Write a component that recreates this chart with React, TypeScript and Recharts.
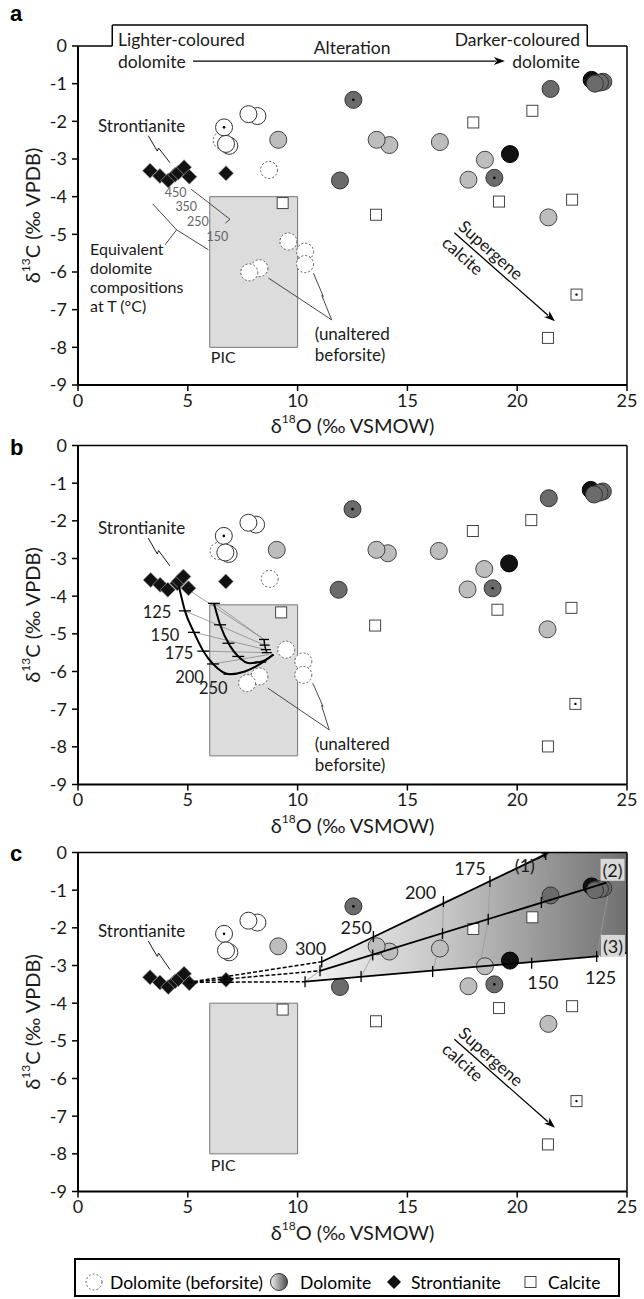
import React from "react";
import {
  ComposedChart,
  Scatter,
  Area,
  XAxis,
  YAxis,
  ReferenceArea,
  ReferenceLine,
  ReferenceDot,
  Label,
} from "recharts";

const FONT = "Lato, 'Open Sans', sans-serif";

type Pt = { x: number; y: number; dot?: boolean };

// ---- panel a measurements (panel c reuses them, without beforsite) ----
const strontianiteA: Pt[] = [
  { x: 3.28, y: -3.31 }, { x: 3.73, y: -3.45 }, { x: 4.11, y: -3.57 }, { x: 4.42, y: -3.42 },
  { x: 4.57, y: -3.36 }, { x: 4.83, y: -3.22 }, { x: 5.07, y: -3.47 }, { x: 6.74, y: -3.38 },
];
const beforsiteA: Pt[] = [
  { x: 6.54, y: -2.51 }, { x: 8.7, y: -3.29 }, { x: 9.58, y: -5.19 }, { x: 10.34, y: -5.46 },
  { x: 10.34, y: -5.79 }, { x: 8.26, y: -5.9 }, { x: 7.8, y: -6.01 },
];
const whiteDolA: Pt[] = [
  { x: 6.65, y: -2.16, dot: true }, { x: 6.89, y: -2.65 }, { x: 6.74, y: -2.6 },
  { x: 8.17, y: -1.86 }, { x: 7.76, y: -1.81 },
];
const lightDolA: Pt[] = [
  { x: 9.12, y: -2.49 }, { x: 14.18, y: -2.63 }, { x: 13.6, y: -2.49 }, { x: 16.48, y: -2.55 },
  { x: 18.53, y: -3.02 }, { x: 17.78, y: -3.55 }, { x: 21.42, y: -4.55 },
];
const blackDolA: Pt[] = [{ x: 19.67, y: -2.87 }, { x: 23.39, y: -0.9 }];
const darkDolA: Pt[] = [
  { x: 12.54, y: -1.43, dot: true }, { x: 11.93, y: -3.57 }, { x: 18.96, y: -3.5, dot: true },
  { x: 21.52, y: -1.14 }, { x: 23.92, y: -0.95 }, { x: 23.77, y: -0.97 }, { x: 23.54, y: -1.0 },
];
const calciteA: Pt[] = [
  { x: 9.32, y: -4.17 }, { x: 13.57, y: -4.48 }, { x: 18.0, y: -2.03 }, { x: 20.69, y: -1.72 },
  { x: 19.17, y: -4.13 }, { x: 22.5, y: -4.08 }, { x: 22.7, y: -6.6, dot: true }, { x: 21.4, y: -7.75 },
];

// ---- panel b measurements ----
const strontianiteB: Pt[] = [
  { x: 3.31, y: -3.57 }, { x: 3.74, y: -3.7 }, { x: 4.09, y: -3.83 }, { x: 4.52, y: -3.66 },
  { x: 4.6, y: -3.6 }, { x: 4.8, y: -3.48 }, { x: 5.03, y: -3.79 }, { x: 6.73, y: -3.61 },
];
const beforsiteB: Pt[] = [
  { x: 6.4, y: -2.8 }, { x: 8.73, y: -3.54 }, { x: 9.48, y: -5.42 }, { x: 10.26, y: -5.73 },
  { x: 10.26, y: -6.09 }, { x: 8.26, y: -6.13 }, { x: 7.7, y: -6.31 },
];
const whiteDolB: Pt[] = [
  { x: 6.64, y: -2.4, dot: true }, { x: 6.86, y: -2.88 }, { x: 6.71, y: -2.84 },
  { x: 8.11, y: -2.1 }, { x: 7.76, y: -2.05 },
];
const lightDolB: Pt[] = [
  { x: 9.05, y: -2.77 }, { x: 14.11, y: -2.86 }, { x: 13.59, y: -2.77 }, { x: 16.43, y: -2.8 },
  { x: 18.5, y: -3.28 }, { x: 17.74, y: -3.82 }, { x: 21.38, y: -4.88 },
];
const blackDolB: Pt[] = [{ x: 19.63, y: -3.13 }, { x: 23.35, y: -1.18 }];
const darkDolB: Pt[] = [
  { x: 12.5, y: -1.69, dot: true }, { x: 11.87, y: -3.83 }, { x: 18.88, y: -3.79, dot: true },
  { x: 21.44, y: -1.4 }, { x: 23.9, y: -1.22 }, { x: 23.75, y: -1.25 }, { x: 23.5, y: -1.3 },
];
const calciteB: Pt[] = [
  { x: 9.25, y: -4.43 }, { x: 13.53, y: -4.78 }, { x: 17.98, y: -2.27 }, { x: 20.64, y: -1.98 },
  { x: 19.1, y: -4.36 }, { x: 22.47, y: -4.31 }, { x: 22.65, y: -6.86, dot: true }, { x: 21.4, y: -7.99 },
];
// mixing curves (panel b)
const outerCurveB: Pt[] = [
  { x: 4.6, y: -3.75 }, { x: 4.87, y: -4.39 }, { x: 5.28, y: -4.96 }, { x: 5.71, y: -5.46 },
  { x: 6.15, y: -5.8 }, { x: 6.9, y: -6.07 }, { x: 7.6, y: -6.0 }, { x: 8.3, y: -5.8 }, { x: 8.9, y: -5.55 },
];
const outerTicksB: Pt[] = [
  { x: 4.87, y: -4.39 }, { x: 5.28, y: -4.96 }, { x: 5.71, y: -5.46 }, { x: 6.15, y: -5.8 }, { x: 6.9, y: -6.07 },
];
const innerCurveB: Pt[] = [
  { x: 6.19, y: -4.19 }, { x: 6.47, y: -4.76 }, { x: 6.92, y: -5.32 }, { x: 7.3, y: -5.6 },
  { x: 7.8, y: -5.78 }, { x: 8.3, y: -5.75 }, { x: 8.9, y: -5.55 },
];
const innerTicksB: Pt[] = [
  { x: 6.19, y: -4.19 }, { x: 6.47, y: -4.76 }, { x: 6.85, y: -5.25 }, { x: 7.3, y: -5.6 }, { x: 8.3, y: -5.75 },
];
const endTicksB: Pt[] = [
  { x: 8.47, y: -5.15 }, { x: 8.5, y: -5.3 }, { x: 8.55, y: -5.42 }, { x: 8.6, y: -5.5 },
];
const tieLinesB: [number, number, number, number][] = [
  [4.95, -3.8, 8.47, -5.15], [6.19, -4.19, 8.47, -5.15], [4.87, -4.39, 8.5, -5.3],
  [5.28, -4.96, 8.55, -5.42], [5.71, -5.46, 8.6, -5.5], [6.15, -5.8, 8.7, -5.55],
];
const tempLabelsB = [
  { t: "125", x: 3.6, y: -4.42 }, { t: "150", x: 3.96, y: -5.03 }, { t: "175", x: 4.6, y: -5.5 },
  { t: "200", x: 5.08, y: -6.14 }, { t: "250", x: 6.16, y: -6.45 },
];

// ---- panel c mixing lines ----
const line1C: Pt[] = [{ x: 11.1, y: -2.9 }, { x: 21.3, y: -0.05 }];
const line2C: Pt[] = [{ x: 11.02, y: -3.14 }, { x: 24.07, y: -0.8 }];
const line3C: Pt[] = [{ x: 10.34, y: -3.43 }, { x: 23.62, y: -2.76 }];
const line3TailC: Pt[] = [{ x: 23.62, y: -2.76 }, { x: 25, y: -2.67 }];
const dashStartC: Pt = { x: 5.0, y: -3.45 };
const ticksC: Pt[] = [
  { x: 11.1, y: -2.9 }, { x: 13.45, y: -2.23 }, { x: 16.64, y: -1.3 }, { x: 18.76, y: -0.77 }, { x: 21.3, y: -0.05 },
  { x: 11.02, y: -3.14 }, { x: 13.42, y: -2.72 }, { x: 16.6, y: -2.16 }, { x: 18.68, y: -1.77 }, { x: 21.1, y: -1.33 },
  { x: 10.34, y: -3.43 }, { x: 12.89, y: -3.29 }, { x: 16.15, y: -3.16 }, { x: 20.66, y: -2.94 }, { x: 23.62, y: -2.76 },
];
const isothermsC: Pt[][] = [
  [{ x: 11.1, y: -2.9 }, { x: 11.02, y: -3.14 }, { x: 10.34, y: -3.43 }],
  [{ x: 13.45, y: -2.23 }, { x: 13.42, y: -2.72 }, { x: 12.89, y: -3.29 }],
  [{ x: 16.64, y: -1.3 }, { x: 16.6, y: -2.16 }, { x: 16.15, y: -3.16 }],
  [{ x: 18.76, y: -0.77 }, { x: 18.68, y: -1.77 }, { x: 18.3, y: -3.03 }],
  [{ x: 21.3, y: -0.05 }, { x: 21.1, y: -1.33 }, { x: 20.66, y: -2.94 }],
  [{ x: 24.2, y: -0.9 }, { x: 23.62, y: -2.76 }],
];
const shadeX = [10.34, 11.1, 13.45, 16.64, 18.76, 21.3, 25];
const shadeTop = [-3.43, -2.9, -2.23, -1.3, -0.77, 0, 0];
const shadeBottom = [-3.43, -3.39, -3.27, -3.11, -3.0, -2.87, -2.67];
const tempLabelsC = [
  { t: "300", x: 10.59, y: -2.53 }, { t: "250", x: 12.67, y: -1.98 }, { t: "200", x: 15.6, y: -1.04 },
  { t: "175", x: 17.85, y: -0.41 }, { t: "150", x: 21.17, y: -3.43 }, { t: "125", x: 23.8, y: -3.3 },
];
// equivalent dolomite temperature labels (panel a)
const eqTemps = [
  { t: "450", x: 4.45, y: -3.88 }, { t: "350", x: 4.93, y: -4.27 },
  { t: "250", x: 5.46, y: -4.66 }, { t: "150", x: 6.35, y: -5.05 },
];

const xTicks = [0, 5, 10, 15, 20, 25];
const yTicks = [0, -1, -2, -3, -4, -5, -6, -7, -8, -9];

// ---- marker shapes ----
const circleShape = (fill: string, stroke: string, dashed = false) => (p: any) => (
  <g>
    <circle cx={p.cx} cy={p.cy} r={8.5} fill={fill} stroke={stroke} strokeWidth={1}
      strokeDasharray={dashed ? "2 2" : undefined} />
    {p.payload && p.payload.dot ? <circle cx={p.cx} cy={p.cy} r={1.3} fill="#000" /> : null}
  </g>
);
const diamondShape = (p: any) => (
  <polygon points={`${p.cx},${p.cy - 7.5} ${p.cx + 7.5},${p.cy} ${p.cx},${p.cy + 7.5} ${p.cx - 7.5},${p.cy}`}
    fill="#121212" stroke="#9a9a9a" strokeWidth={0.7} />
);
const squareShape = (p: any) => (
  <g>
    <rect x={p.cx - 5.5} y={p.cy - 5.5} width={11} height={11} fill="#fff" stroke="#444" strokeWidth={1} />
    {p.payload && p.payload.dot ? <circle cx={p.cx} cy={p.cy} r={1.2} fill="#000" /> : null}
  </g>
);
const noShape = () => <g />;
const hTick = (len: number) => (p: any) => (
  <line x1={p.cx - len / 2} y1={p.cy} x2={p.cx + len / 2} y2={p.cy} stroke="#000" strokeWidth={1.3} />
);
const vTick = (len: number) => (p: any) => (
  <line x1={p.cx} y1={p.cy - len / 2} x2={p.cx} y2={p.cy + len / 2} stroke="#000" strokeWidth={1.3} />
);

const arrowShape = (head = 10, width = 7, sw = 1.3) => (p: any) => {
  const { x1, y1, x2, y2 } = p;
  const a = Math.atan2(y2 - y1, x2 - x1);
  const bx = x2 - head * Math.cos(a);
  const by = y2 - head * Math.sin(a);
  const nx = (-Math.sin(a) * width) / 2;
  const ny = (Math.cos(a) * width) / 2;
  return (
    <g>
      <line x1={x1} y1={y1} x2={bx + 2 * Math.cos(a)} y2={by + 2 * Math.sin(a)} stroke="#000" strokeWidth={sw} />
      <polygon points={`${x2},${y2} ${bx + nx},${by + ny} ${bx + 3 * Math.cos(a)},${by + 3 * Math.sin(a)} ${bx - nx},${by - ny}`} fill="#000" />
    </g>
  );
};

// straight annotation segments
const seg = (key: string, x1: number, y1: number, x2: number, y2: number, stroke = "#000", w = 1, dash?: string) => (
  <ReferenceLine key={key} segment={[{ x: x1, y: y1 }, { x: x2, y: y2 }]} stroke={stroke} strokeWidth={w}
    strokeDasharray={dash} ifOverflow="visible" />
);
const poly = (key: string, pts: number[][], stroke = "#000", w = 1) =>
  pts.slice(1).map((p, i) => seg(`${key}-${i}`, pts[i][0], pts[i][1], p[0], p[1], stroke, w));
const arrow = (key: string, x1: number, y1: number, x2: number, y2: number, head = 10, width = 7) => (
  <ReferenceLine key={key} segment={[{ x: x1, y: y1 }, { x: x2, y: y2 }]} ifOverflow="visible"
    shape={arrowShape(head, width)} />
);

type NoteOpts = { anchor?: "start" | "middle" | "end"; size?: number; fill?: string; rotate?: number; bg?: string };
const note = (key: string, x: number, y: number, text: string, o: NoteOpts = {}) => (
  <ReferenceDot key={key} x={x} y={y} r={0} ifOverflow="visible"
    shape={(p: any) => (
      <g transform={o.rotate ? `rotate(${o.rotate} ${p.cx} ${p.cy})` : undefined}>
        {o.bg ? <rect x={p.cx - 12} y={p.cy - 11} width={24} height={22} fill={o.bg} /> : null}
        <text x={p.cx} y={p.cy} textAnchor={o.anchor || "start"} dominantBaseline="central"
          fontSize={o.size || 17} fill={o.fill || "#1a1a1a"} fontFamily={FONT}>{text}</text>
      </g>
    )} />
);

const YTitle = (props: any) => {
  const vb = props.viewBox;
  const cx = vb.x + 4;
  const cy = vb.y + vb.height / 2;
  return (
    <text x={cx} y={cy} transform={`rotate(-90 ${cx} ${cy})`} textAnchor="middle" dominantBaseline="central"
      fontSize={20} fontFamily={FONT} fill="#1a1a1a">
      δ<tspan fontSize={12} dy={-7}>13</tspan><tspan dy={7}>C (‰ VPDB)</tspan>
    </text>
  );
};
const XTitle = (props: any) => {
  const vb = props.viewBox;
  const cx = vb.x + vb.width / 2;
  const cy = vb.y + 40;
  return (
    <text x={cx} y={cy} textAnchor="middle" dominantBaseline="central" fontSize={20} fontFamily={FONT} fill="#1a1a1a">
      δ<tspan fontSize={12} dy={-7}>18</tspan><tspan dy={7}>O (‰ VSMOW)</tspan>
    </text>
  );
};

const axes = () => [
  <XAxis key="xa" type="number" dataKey="x" domain={[0, 25]} ticks={xTicks} allowDataOverflow height={60}
    axisLine={{ stroke: "#000", strokeWidth: 2 }} tickLine={{ stroke: "#000", strokeWidth: 1.5 }} tickSize={6}
    tickMargin={3} tick={{ fontSize: 18, fill: "#1a1a1a", fontFamily: FONT }}>
    <Label content={<XTitle />} />
  </XAxis>,
  <YAxis key="ya" type="number" dataKey="y" domain={[-9, 0]} ticks={yTicks} allowDataOverflow width={50}
    axisLine={{ stroke: "#000", strokeWidth: 2 }} tickLine={{ stroke: "#000", strokeWidth: 1.5 }} tickSize={6}
    tickMargin={5} tick={{ fontSize: 18, fill: "#1a1a1a", fontFamily: FONT }}>
    <Label content={<YTitle />} />
  </YAxis>,
];

const dataSeries = (bef: Pt[] | null, white: Pt[], light: Pt[], black: Pt[], dark: Pt[], calc: Pt[], stron: Pt[]) => [
  bef ? <Scatter key="bef" data={bef} dataKey="y" shape={circleShape("#fff", "#555", true)} isAnimationActive={false} /> : null,
  <Scatter key="white" data={white} dataKey="y" shape={circleShape("#fff", "#333")} isAnimationActive={false} />,
  <Scatter key="light" data={light} dataKey="y" shape={circleShape("#bdbdbd", "#444")} isAnimationActive={false} />,
  <Scatter key="black" data={black} dataKey="y" shape={circleShape("#111", "#000")} isAnimationActive={false} />,
  <Scatter key="dark" data={dark} dataKey="y" shape={circleShape("#6b6b6b", "#333")} isAnimationActive={false} />,
  <Scatter key="calc" data={calc} dataKey="y" shape={squareShape} isAnimationActive={false} />,
  <Scatter key="stron" data={stron} dataKey="y" shape={diamondShape} isAnimationActive={false} />,
];

const strontianiteLabel = (y: number, bolt: number[][]) => [
  note("stl", 0.91, y, "Strontianite", { size: 17 }),
  ...poly("bolt", bolt, "#000", 0.9),
];

const supergene = () => [
  arrow("sg", 17.14, -4.96, 21.72, -7.31, 11, 8),
  note("sg1", 18.81, -5.41, "Supergene", { anchor: "middle", rotate: 41.6, size: 17 }),
  note("sg2", 17.53, -5.56, "calcite", { anchor: "middle", rotate: 41.6, size: 17 }),
];

const MARGIN = (top: number) => ({ top, right: 17, bottom: 0, left: 28 });

const PanelA = () => (
  <ComposedChart width={644} height={46 + 339 + 60} margin={MARGIN(46)}>
    {axes()}
    <ReferenceArea x1={6} x2={10} y1={-8} y2={-4} fill="#dcdcdc" fillOpacity={1} stroke="#777" strokeWidth={1} />
    {seg("top1", 0, 0, 1.56, 0, "#000", 1.5)}
    {seg("top2", 1.56, 0, 1.56, 0.557, "#000", 1.5)}
    {seg("top3", 1.56, 0.557, 23.19, 0.557, "#000", 1.5)}
    {seg("top4", 23.19, 0.557, 23.19, 0, "#000", 1.5)}
    {seg("top5", 23.19, 0, 25, 0, "#000", 1.5)}
    {seg("right", 25, 0, 25, -9, "#000", 1.5)}
    {note("lc1", 1.82, 0.16, "Lighter-coloured", { size: 17.5 })}
    {note("lc2", 1.82, -0.42, "dolomite", { size: 17.5 })}
    {note("alt", 12.48, -0.05, "Alteration", { anchor: "middle", size: 17.5 })}
    {note("dc1", 22.86, 0.16, "Darker-coloured", { anchor: "end", size: 17.5 })}
    {note("dc2", 22.86, -0.42, "dolomite", { anchor: "end", size: 17.5 })}
    {arrow("altarrow", 5.24, -0.4, 19.44, -0.4, 11, 8)}
    {strontianiteLabel(-2.1, [[3.2, -2.38], [3.61, -2.79], [3.67, -2.71], [4.19, -3.1]])}
    {eqTemps.map((t, i) => note(`eqt${i}`, t.x, t.y, t.t, { anchor: "middle", size: 12.5, fill: "#666" }))}
    {poly("brk", [[5.15, -3.8], [6.92, -4.6], [6.72, -4.7]], "#333", 0.9)}
    {poly("brace", [[3.4, -4.19], [4.49, -4.88], [5.94, -5.41]], "#333", 0.9)}
    {seg("braceLead", 4.49, -4.88, 3.96, -5.28, "#333", 0.9)}
    {note("eq1", 0.55, -5.37, "Equivalent", { size: 16 })}
    {note("eq2", 0.55, -5.88, "dolomite", { size: 16 })}
    {note("eq3", 0.55, -6.38, "compositions", { size: 16 })}
    {note("eq4", 0.55, -6.9, "at T (°C)", { size: 16 })}
    {note("pic", 6.05, -8.25, "PIC", { size: 16 })}
    {seg("unLead", 8.67, -6.16, 11.55, -7.27, "#333", 0.9)}
    {poly("unBolt", [[10.72, -6.03], [11.17, -6.65], [11.1, -6.62], [11.55, -7.27]], "#333", 0.9)}
    {note("un1", 10.78, -7.62, "(unaltered")}
    {note("un2", 10.78, -8.2, "beforsite)")}
    {supergene()}
    {dataSeries(beforsiteA, whiteDolA, lightDolA, blackDolA, darkDolA, calciteA, strontianiteA)}
  </ComposedChart>
);

const PanelB = () => (
  <ComposedChart width={644} height={45.5 + 339 + 60} margin={MARGIN(45.5)}>
    {axes()}
    <ReferenceArea x1={6} x2={10} y1={-8.24} y2={-4.23} fill="#dcdcdc" fillOpacity={1} stroke="#777" strokeWidth={1} />
    {seg("top", 0, 0, 25, 0, "#000", 1.5)}
    {seg("right", 25, 0, 25, -9, "#000", 1.5)}
    {strontianiteLabel(-2.17, [[3.2, -2.46], [3.61, -2.88], [3.67, -2.79], [4.19, -3.2]])}
    {tieLinesB.map((t, i) => seg(`tie${i}`, t[0], t[1], t[2], t[3], "#8a8a8a", 0.8))}
    {seg("unLead", 8.64, -6.44, 11.44, -7.55, "#333", 0.9)}
    {poly("unBolt", [[10.69, -6.31], [11.16, -6.93], [11.09, -6.9], [11.44, -7.55]], "#333", 0.9)}
    {note("un1", 10.78, -7.9, "(unaltered")}
    {note("un2", 10.78, -8.47, "beforsite)")}
    {tempLabelsB.map((t, i) => note(`tb${i}`, t.x, t.y, t.t, { anchor: "middle", size: 16.5 }))}
    {dataSeries(beforsiteB, whiteDolB, lightDolB, blackDolB, darkDolB, calciteB, strontianiteB)}
    <Scatter data={outerCurveB} dataKey="y" fill="#000" line={{ stroke: "#000", strokeWidth: 2 }} lineJointType="monotoneX" shape={noShape} isAnimationActive={false} />
    <Scatter data={innerCurveB} dataKey="y" fill="#000" line={{ stroke: "#000", strokeWidth: 2 }} lineJointType="monotoneX" shape={noShape} isAnimationActive={false} />
    <Scatter data={endTicksB} dataKey="y" fill="#000" line={{ stroke: "#000", strokeWidth: 1.5 }} shape={hTick(10)} isAnimationActive={false} />
    <Scatter data={outerTicksB} dataKey="y" shape={hTick(12)} isAnimationActive={false} />
    <Scatter data={innerTicksB} dataKey="y" shape={hTick(12)} isAnimationActive={false} />
  </ComposedChart>
);

const shadeData = shadeX.map((x, i) => ({ x, band: [shadeBottom[i], shadeTop[i]] }));

const PanelC = () => (
  <ComposedChart width={644} height={52.5 + 339 + 60} margin={MARGIN(52.5)}>
    <defs>
      <linearGradient id="gradC" x1="0" y1="0" x2="1" y2="0">
        <stop offset="0%" stopColor="#f4f4f4" />
        <stop offset="45%" stopColor="#c4c4c4" />
        <stop offset="100%" stopColor="#707070" />
      </linearGradient>
    </defs>
    {axes()}
    <ReferenceArea x1={6} x2={10} y1={-8} y2={-4} fill="#dcdcdc" fillOpacity={1} stroke="#777" strokeWidth={1} />
    <Area data={shadeData} dataKey="band" type="linear" stroke="none" fill="url(#gradC)" fillOpacity={1} isAnimationActive={false} />
    {seg("top", 0, 0, 25, 0, "#000", 1.5)}
    {seg("right", 25, 0, 25, -9, "#000", 1.5)}
    {strontianiteLabel(-2.07, [[3.2, -2.35], [3.61, -2.76], [3.67, -2.67], [4.19, -3.11]])}
    {note("pic", 6.05, -8.29, "PIC", { size: 16 })}
    {supergene()}
    {isothermsC.map((iso, i) => (
      <Scatter key={`iso${i}`} data={iso} dataKey="y" fill="#999" line={{ stroke: "#9a9a9a", strokeWidth: 0.8 }} shape={noShape} isAnimationActive={false} />
    ))}
    {dataSeries(null, whiteDolA, lightDolA, blackDolA, darkDolA, calciteA, strontianiteA)}
    {[line1C, line2C, line3C].map((l, i) => (
      <Scatter key={`dash${i}`} data={[dashStartC, l[0]]} dataKey="y" fill="#000" line={{ stroke: "#000", strokeWidth: 1.5, strokeDasharray: "4 2" }} shape={noShape} isAnimationActive={false} />
    ))}
    {[line1C, line2C, line3C].map((l, i) => (
      <Scatter key={`sol${i}`} data={l} dataKey="y" fill="#000" line={{ stroke: "#000", strokeWidth: 1.8 }} shape={noShape} isAnimationActive={false} />
    ))}
    <Scatter data={line3TailC} dataKey="y" fill="#000" line={{ stroke: "#000", strokeWidth: 1.8, strokeDasharray: "2 2" }} shape={noShape} isAnimationActive={false} />
    <Scatter data={ticksC} dataKey="y" shape={vTick(11)} isAnimationActive={false} />
    {arrow("a1", 20.9, -0.17, 21.45, 0.0, 8, 6)}
    {arrow("a2", 23.6, -0.88, 24.15, -0.78, 8, 6)}
    {tempLabelsC.map((t, i) => note(`tc${i}`, t.x, t.y, t.t, { anchor: "middle", size: 18 }))}
    {note("l1", 20.35, -0.33, "(1)", { anchor: "middle", size: 18 })}
    {note("l2", 24.34, -0.46, "(2)", { anchor: "middle", size: 18, bg: "#d8d8d8" })}
    {note("l3", 24.36, -2.48, "(3)", { anchor: "middle", size: 18, bg: "#d8d8d8" })}
  </ComposedChart>
);

const Legend = () => (
  <div style={{ position: "absolute", left: 74, top: 1258, width: 546, height: 39, border: "2px solid #000", boxSizing: "border-box", fontFamily: FONT, fontSize: 17, color: "#1a1a1a" }}>
    <svg width={542} height={35} style={{ position: "absolute", left: 0, top: 0 }}>
      <defs>
        <linearGradient id="legGrad" x1="0" y1="0" x2="1" y2="0">
          <stop offset="0%" stopColor="#f2f2f2" />
          <stop offset="100%" stopColor="#4a4a4a" />
        </linearGradient>
      </defs>
      <circle cx={18} cy={22} r={8} fill="#fff" stroke="#666" strokeDasharray="2 2" />
      <circle cx={203} cy={22} r={8.5} fill="url(#legGrad)" stroke="#333" />
      <polygon points="318,15 325,22 318,29 311,22" fill="#111" />
      <rect x={449} y={16.5} width={11} height={11} fill="#fff" stroke="#444" />
      <text x={34} y={22} dominantBaseline="central" fontSize={17.5} fontFamily={FONT}>Dolomite (beforsite)</text>
      <text x={224} y={22} dominantBaseline="central" fontSize={17.5} fontFamily={FONT}>Dolomite</text>
      <text x={335} y={22} dominantBaseline="central" fontSize={17.5} fontFamily={FONT}>Strontianite</text>
      <text x={472} y={22} dominantBaseline="central" fontSize={17.5} fontFamily={FONT}>Calcite</text>
    </svg>
  </div>
);

const panelLetter = (t: string, top: number) => (
  <div style={{ position: "absolute", left: 10, top, fontFamily: "'Liberation Sans', Arial, sans-serif", fontWeight: 700, fontSize: 22, lineHeight: "22px" }}>{t}</div>
);

export default function App() {
  return (
    <div style={{ position: "absolute", left: 0, top: 0, width: 644, height: 1299, background: "#fff", overflow: "hidden" }}>
      <div style={{ position: "absolute", left: 0, top: 0 }}><PanelA /></div>
      <div style={{ position: "absolute", left: 0, top: 400 }}><PanelB /></div>
      <div style={{ position: "absolute", left: 0, top: 800 }}><PanelC /></div>
      {panelLetter("a", 3)}
      {panelLetter("b", 437)}
      {panelLetter("c", 843)}
      <Legend />
    </div>
  );
}
